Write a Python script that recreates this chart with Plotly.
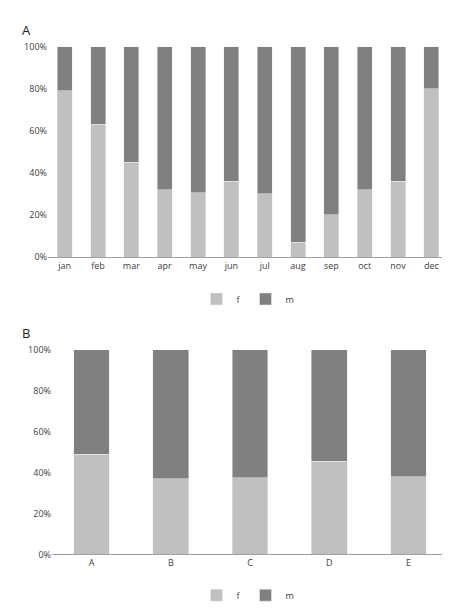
import plotly.graph_objects as go

months = ["jan","feb","mar","apr","may","jun","jul","aug","sep","oct","nov","dec"]
f_month = [79, 63, 45, 32, 30.5, 36, 30, 7, 20, 32, 36, 80]
m_month = [100 - v for v in f_month]
groups = ["A","B","C","D","E"]
f_group = [49, 37, 37.5, 45.5, 38]
m_group = [100 - v for v in f_group]
yticks = [0, 20, 40, 60, 80, 100]
ytick_labels = ["0%", "20%", "40%", "60%", "80%", "100%"]

cf, cm = "#c0c0c0", "#808080"
fig = go.Figure()
fig.add_bar(x=months, y=f_month, name="f", marker_color=cf, xaxis="x", yaxis="y", legend="legend")
fig.add_bar(x=months, y=m_month, name="m", marker_color=cm, xaxis="x", yaxis="y", legend="legend")
fig.add_bar(x=groups, y=f_group, name="f", marker_color=cf, xaxis="x2", yaxis="y2", legend="legend2")
fig.add_bar(x=groups, y=m_group, name="m", marker_color=cm, xaxis="x2", yaxis="y2", legend="legend2")

font = dict(family="Open Sans", size=9, color="#404040")
ax = dict(showgrid=False, ticks="", showline=True, linecolor="#a0a0a0", tickfont=font)
yax = dict(range=[0, 100], tickmode="array", tickvals=yticks, ticktext=ytick_labels, showgrid=False,
           showline=False, zeroline=False, tickfont=font)
fig.update_layout(
    width=450, height=616, barmode="stack", plot_bgcolor="white", paper_bgcolor="white",
    margin=dict(l=40, r=10, t=10, b=10), bargap=0.55, showlegend=True,
    xaxis=dict(ax, domain=[0, 1], anchor="y"),
    yaxis=dict(yax, domain=[0.602, 0.963], anchor="x"),
    xaxis2=dict(ax, domain=[0.01, 1], anchor="y2"),
    yaxis2=dict(yax, domain=[0.092, 0.443], anchor="x2"),
    legend=dict(orientation="h", x=0.5, xanchor="center", y=0.53, yanchor="middle", font=font,
                itemwidth=30, traceorder="normal"),
    legend2=dict(orientation="h", x=0.5, xanchor="center", y=0.022, yanchor="middle", font=font,
                 itemwidth=30, traceorder="normal"),
    annotations=[
        dict(text="A", x=-0.07, y=1.01, xref="paper", yref="paper", showarrow=False,
             font=dict(family="Open Sans", size=13, color="#222"), xanchor="left", yanchor="top"),
        dict(text="B", x=-0.07, y=0.49, xref="paper", yref="paper", showarrow=False,
             font=dict(family="Open Sans", size=13, color="#222"), xanchor="left", yanchor="top"),
    ],
)
fig.write_html("out.html")
